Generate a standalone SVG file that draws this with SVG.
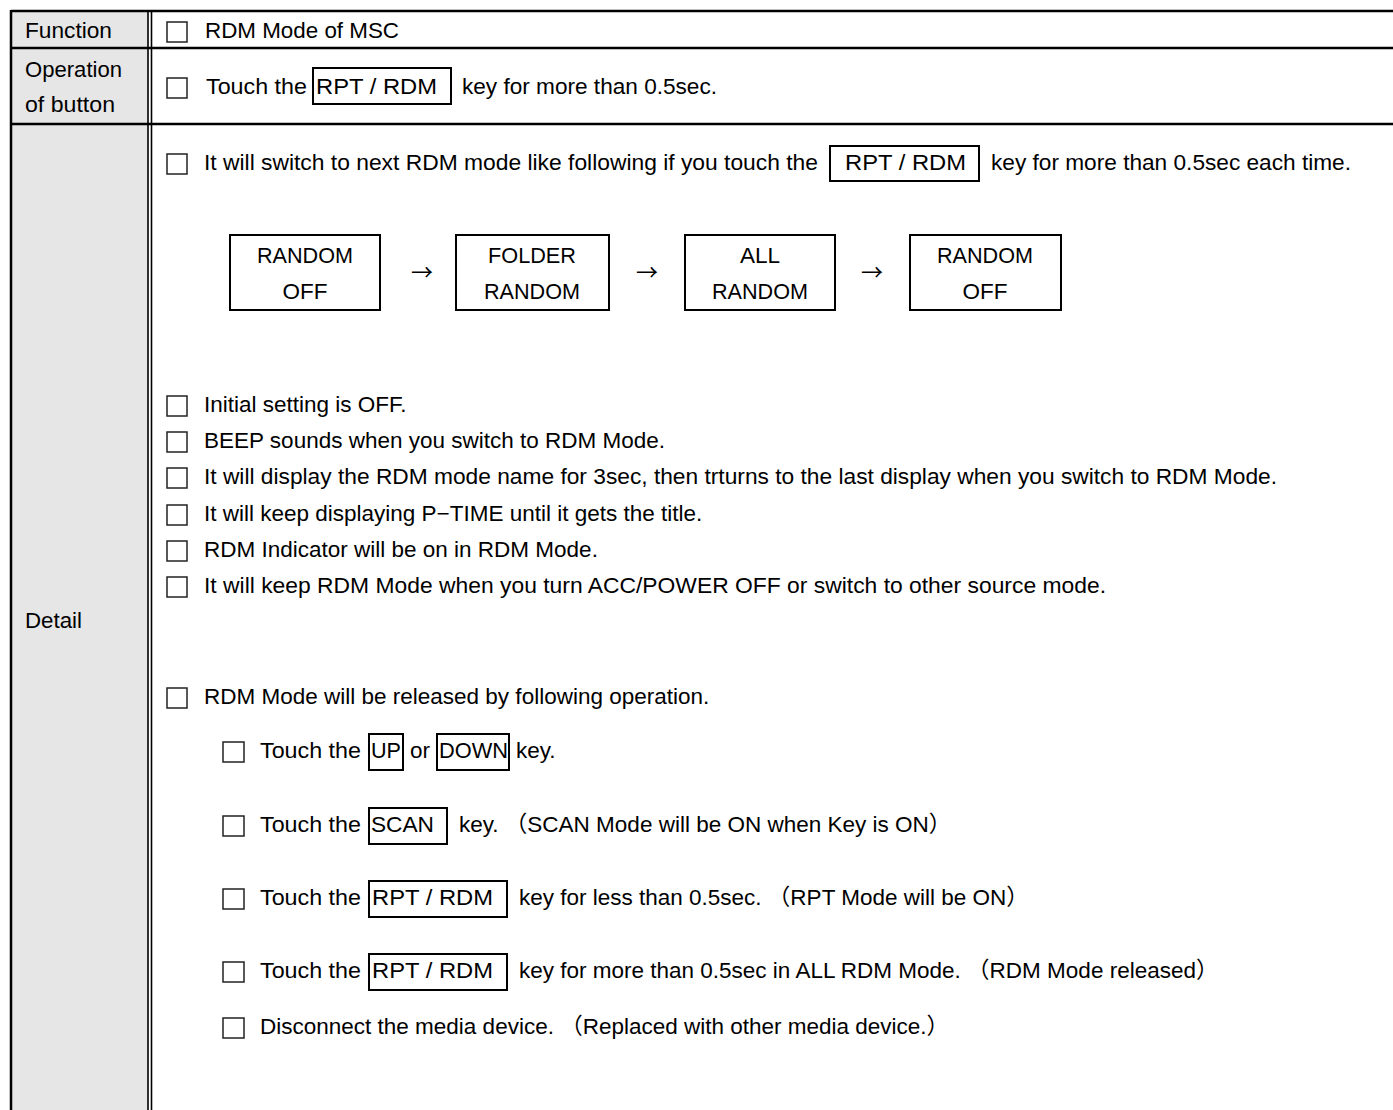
<svg xmlns="http://www.w3.org/2000/svg" width="1393" height="1110" viewBox="0 0 1393 1110">
<style>
text{font-family:"Liberation Sans","Noto Sans CJK JP",sans-serif;font-size:22.5px;fill:#000}
.arrow{font-family:"Noto Sans CJK JP",sans-serif;font-size:22px}
.cb{fill:#fff;stroke:#222;stroke-width:1.5}
.key{fill:none;stroke:#000;stroke-width:2}
.flow{fill:#fff;stroke:#000;stroke-width:2}
.grid{stroke:#000;stroke-width:2.5;fill:none}
.mid{text-anchor:middle}
</style>
<rect width="1393" height="1110" fill="#fff"/>
<g id="table">
<rect x="11" y="11" width="138" height="1100" fill="#e6e6e6"/>
<line class="grid" x1="11" y1="11" x2="1393" y2="11"/>
<line class="grid" x1="11" y1="48" x2="1393" y2="48"/>
<line class="grid" x1="11" y1="124" x2="1393" y2="124"/>
<line class="grid" x1="11" y1="10" x2="11" y2="1110"/>
<line x1="148" y1="10" x2="148" y2="1110" stroke="#000" stroke-width="1.6"/>
<line x1="151.5" y1="10" x2="151.5" y2="1110" stroke="#000" stroke-width="1.6"/>
<text x="25" y="38" textLength="87" lengthAdjust="spacingAndGlyphs">Function</text>
<text x="25" y="77" textLength="97" lengthAdjust="spacingAndGlyphs">Operation</text>
<text x="25" y="112" textLength="90" lengthAdjust="spacingAndGlyphs">of button</text>
<text x="25" y="628" textLength="57" lengthAdjust="spacingAndGlyphs">Detail</text>
</g>
<g id="row-function">
<rect class="cb" x="167" y="22" width="20" height="20"/>
<text x="205" y="38" textLength="194" lengthAdjust="spacingAndGlyphs">RDM Mode of MSC</text>
</g>
<g id="row-operation">
<rect class="cb" x="167" y="78" width="20" height="20"/>
<text x="206" y="94" textLength="101" lengthAdjust="spacingAndGlyphs">Touch the</text>
<rect class="key" x="313" y="68" width="138" height="36"/>
<text x="316" y="94" textLength="121" lengthAdjust="spacingAndGlyphs">RPT / RDM</text>
<text x="462" y="94" textLength="255" lengthAdjust="spacingAndGlyphs">key for more than 0.5sec.</text>
</g>
<g id="detail-switch">
<rect class="cb" x="167" y="154" width="20" height="20"/>
<text x="204" y="170" textLength="614" lengthAdjust="spacingAndGlyphs">It will switch to next RDM mode like following if you touch the</text>
<rect class="key" x="830" y="146" width="149" height="35"/>
<text x="845" y="170" textLength="121" lengthAdjust="spacingAndGlyphs">RPT / RDM</text>
<text x="991" y="170" textLength="360" lengthAdjust="spacingAndGlyphs">key for more than 0.5sec each time.</text>
</g>
<g id="flow-random-off-1">
<rect class="flow" x="230" y="235" width="150" height="75"/>
<text class="mid" x="305" y="263" textLength="96" lengthAdjust="spacingAndGlyphs">RANDOM</text>
<text class="mid" x="305" y="299">OFF</text>
</g>
<g id="flow-folder-random">
<rect class="flow" x="456" y="235" width="153" height="75"/>
<text class="mid" x="532" y="263" textLength="88" lengthAdjust="spacingAndGlyphs">FOLDER</text>
<text class="mid" x="532" y="299" textLength="96" lengthAdjust="spacingAndGlyphs">RANDOM</text>
</g>
<g id="flow-all-random">
<rect class="flow" x="685" y="235" width="150" height="75"/>
<text class="mid" x="760" y="263">ALL</text>
<text class="mid" x="760" y="299" textLength="96" lengthAdjust="spacingAndGlyphs">RANDOM</text>
</g>
<g id="flow-random-off-2">
<rect class="flow" x="910" y="235" width="151" height="75"/>
<text class="mid" x="985" y="263" textLength="96" lengthAdjust="spacingAndGlyphs">RANDOM</text>
<text class="mid" x="985" y="299">OFF</text>
</g>
<g id="connectors">
<text class="arrow mid" x="422" y="280">→</text>
<text class="arrow mid" x="647" y="280">→</text>
<text class="arrow mid" x="872" y="280">→</text>
</g>
<g id="detail-items">
<rect class="cb" x="167" y="396" width="20" height="20"/>
<text x="204" y="412">Initial setting is OFF.</text>
<rect class="cb" x="167" y="432" width="20" height="20"/>
<text x="204" y="448">BEEP sounds when you switch to RDM Mode.</text>
<rect class="cb" x="167" y="468" width="20" height="20"/>
<text x="204" y="484" textLength="1073" lengthAdjust="spacingAndGlyphs">It will display the RDM mode name for 3sec, then trturns to the last display when you switch to RDM Mode.</text>
<rect class="cb" x="167" y="505" width="20" height="20"/>
<text x="204" y="521">It will keep displaying P−TIME until it gets the title.</text>
<rect class="cb" x="167" y="541" width="20" height="20"/>
<text x="204" y="557">RDM Indicator will be on in RDM Mode.</text>
<rect class="cb" x="167" y="577" width="20" height="20"/>
<text x="204" y="593" textLength="902" lengthAdjust="spacingAndGlyphs">It will keep RDM Mode when you turn ACC/POWER OFF or switch to other source mode.</text>
</g>
<g id="release">
<rect class="cb" x="167" y="688" width="20" height="20"/>
<text x="204" y="704">RDM Mode will be released by following operation.</text>
</g>
<g id="release-updown">
<rect class="cb" x="223" y="742" width="21" height="20"/>
<text x="260" y="758" textLength="101" lengthAdjust="spacingAndGlyphs">Touch the</text>
<rect class="key" x="369" y="734" width="34" height="36"/>
<text x="371" y="758" textLength="30" lengthAdjust="spacingAndGlyphs">UP</text>
<text x="410" y="758">or</text>
<rect class="key" x="437" y="734" width="72" height="36"/>
<text x="439" y="758" textLength="69" lengthAdjust="spacingAndGlyphs">DOWN</text>
<text x="516" y="758">key.</text>
</g>
<g id="release-scan">
<rect class="cb" x="223" y="816" width="21" height="20"/>
<text x="260" y="832" textLength="101" lengthAdjust="spacingAndGlyphs">Touch the</text>
<rect class="key" x="369" y="808" width="78" height="36"/>
<text x="371" y="832" textLength="63" lengthAdjust="spacingAndGlyphs">SCAN</text>
<text x="459" y="832">key. （SCAN Mode will be ON when Key is ON）</text>
</g>
<g id="release-rpt-short">
<rect class="cb" x="223" y="889" width="21" height="20"/>
<text x="260" y="905" textLength="101" lengthAdjust="spacingAndGlyphs">Touch the</text>
<rect class="key" x="369" y="881" width="138" height="36"/>
<text x="372" y="905" textLength="121" lengthAdjust="spacingAndGlyphs">RPT / RDM</text>
<text x="519" y="905">key for less than 0.5sec. （RPT Mode will be ON）</text>
</g>
<g id="release-rpt-long">
<rect class="cb" x="223" y="962" width="21" height="20"/>
<text x="260" y="978" textLength="101" lengthAdjust="spacingAndGlyphs">Touch the</text>
<rect class="key" x="369" y="954" width="138" height="36"/>
<text x="372" y="978" textLength="121" lengthAdjust="spacingAndGlyphs">RPT / RDM</text>
<text x="519" y="978">key for more than 0.5sec in ALL RDM Mode. （RDM Mode released）</text>
</g>
<g id="release-disconnect">
<rect class="cb" x="223" y="1018" width="21" height="20"/>
<text x="260" y="1034">Disconnect the media device. （Replaced with other media device.）</text>
</g>
</svg>
